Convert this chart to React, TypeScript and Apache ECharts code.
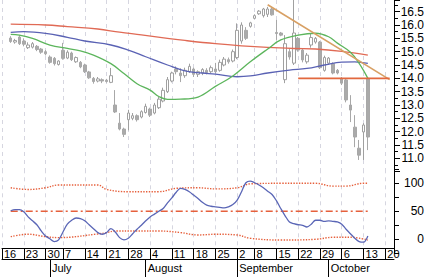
import React, { useEffect, useRef } from 'react';
import * as echarts from 'echarts';

// trading days, June 16 – October 22, 2008
const juneDays = [16, 17, 18, 19, 20, 23, 24, 25, 26, 27, 30];
const julyDays = [1, 2, 3, 7, 8, 9, 10, 11, 14, 15, 16, 17, 18, 21, 22, 23, 24, 25, 28, 29, 30, 31];
const augustDays = [1, 4, 5, 6, 7, 8, 11, 12, 13, 14, 15, 18, 19, 20, 21, 22, 25, 26, 27, 28, 29];
const septemberDays = [2, 3, 4, 5, 8, 9, 10, 11, 12, 15, 16, 17, 18, 19, 22, 23, 24, 25, 26, 29, 30];
const octoberDays = [1, 2, 3, 6, 7, 8, 9, 10, 13, 14, 15, 16, 17, 20, 21, 22];

const dates: string[] = [
  ...juneDays.map((d) => `Jun ${d}`),
  ...julyDays.map((d) => `Jul ${d}`),
  ...augustDays.map((d) => `Aug ${d}`),
  ...septemberDays.map((d) => `Sep ${d}`),
  ...octoberDays.map((d) => `Oct ${d}`),
];

// week start indices (tick boxes) and month starts
const weekStarts = [0, 5, 10, 14, 19, 24, 29, 34, 39, 44, 49, 54, 58, 63, 68, 73, 78, 83, 88];
const monthStarts = [11, 33, 54, 75];
const monthNames = ['July', 'August', 'September', 'October'];

// price axis labels
const priceTicks = [11.0, 11.5, 12.0, 12.5, 13.0, 13.5, 14.0, 14.5, 15.0, 15.5, 16.0, 16.5];
const oscTicks = [0, 50, 100];

// candles start at index 2 (June 18)
const firstCandle = 2;
const opens = [
  15.51, 15.36, 15.55, 15.4, 15.15, 15.17, 15.2, 15.1, 15.0, 14.8,
  14.75, 14.52, 15.05, 14.76, 14.95, 14.62, 14.6, 14.5, 14.24, 14.0,
  13.9, 13.95, 13.93, 13.85, 13.0, 12.32, 12.1, 12.45, 12.5, 12.6,
  12.55, 12.72, 12.85, 12.7, 12.9, 13.15, 13.5, 13.9, 14.35, 14.2,
  14.1, 14.25, 14.35, 14.15, 14.2, 14.3, 14.25, 14.35, 14.3, 14.5,
  14.7, 14.65, 14.78, 15.4, 15.8, 15.95, 16.25, 16.42, 16.35, 16.4,
  16.6, 15.72, 15.7, 13.95, 15.0, 14.57, 15.5, 15.06, 14.62, 15.25,
  15.36, 15.36, 14.3, 14.57, 14.55, 14.3, 14.0, 13.94, 13.0, 12.17,
  11.38, 11.99, 14.0,
];
const closes = [
  15.38, 15.42, 15.3, 15.28, 15.25, 15.3, 15.08, 14.98, 14.92, 14.6,
  14.55, 14.65, 14.75, 14.98, 14.7, 14.78, 14.43, 14.25, 14.02, 13.88,
  13.98, 13.9, 13.88, 14.1, 12.74, 12.1, 11.9, 12.7, 12.6, 12.45,
  12.75, 12.95, 12.62, 13.0, 13.22, 13.55, 13.95, 14.2, 14.25, 14.1,
  14.3, 14.45, 14.15, 14.25, 14.33, 14.22, 14.4, 14.25, 14.6, 14.72,
  14.62, 15.0, 15.8, 16.0, 15.5, 16.08, 16.35, 16.52, 16.6, 16.6,
  16.38, 15.68, 15.62, 15.3, 14.8, 15.7, 15.06, 14.69, 14.87, 15.53,
  15.5, 14.4, 14.78, 14.76, 14.2, 14.2, 13.82, 13.19, 12.81, 11.8,
  11.12, 12.25, 11.8,
];
const lows = [
  15.33, 15.3, 15.25, 15.2, 15.1, 15.12, 15.02, 14.92, 14.86, 14.55,
  14.48, 14.48, 14.7, 14.72, 14.65, 14.58, 14.38, 14.2, 13.98, 13.8,
  13.85, 13.82, 13.84, 13.82, 12.7, 12.05, 11.8, 12.05, 12.43, 12.38,
  12.5, 12.68, 12.55, 12.65, 12.85, 13.1, 13.45, 13.85, 14.15, 13.86,
  14.02, 14.2, 14.05, 14.05, 14.12, 14.15, 14.2, 14.18, 14.25, 14.45,
  14.55, 14.6, 14.72, 15.3, 15.44, 15.9, 16.22, 16.38, 16.28, 16.3,
  16.35, 15.44, 15.58, 13.82, 14.7, 14.5, 15.0, 14.6, 14.55, 15.15,
  15.3, 14.35, 14.25, 14.5, 14.15, 14.15, 13.75, 13.1, 12.36, 11.42,
  10.94, 10.94, 11.31,
];
const highs = [
  15.58, 15.48, 15.62, 15.5, 15.35, 15.36, 15.25, 15.14, 15.06, 14.86,
  14.8, 14.68, 15.33, 15.05, 15.0, 14.82, 14.65, 14.55, 14.28, 14.05,
  14.05, 14.0, 13.98, 14.39, 13.56, 12.7, 12.15, 12.82, 12.7, 12.65,
  12.8, 13.05, 12.9, 13.08, 13.3, 13.65, 14.05, 14.25, 14.45, 14.38,
  14.4, 14.55, 14.4, 14.3, 14.38, 14.38, 14.48, 14.58, 14.7, 14.8,
  14.78, 15.08, 16.06, 16.1, 15.92, 16.12, 16.4, 16.56, 16.64, 16.68,
  16.65, 16.19, 15.74, 15.62, 15.1, 16.95, 15.55, 15.1, 14.95, 15.7,
  15.55, 15.4, 14.85, 14.8, 14.6, 14.35, 14.05, 14.0, 13.37, 12.62,
  11.69, 12.32, 14.0,
];

// moving averages: [day index, value]
const maLong: [number, number][] = [
  [2, 16.03], [10, 16.0], [15, 15.94], [22, 15.85], [27, 15.73], [32, 15.63], [38, 15.5],
  [42, 15.42], [49, 15.3], [55, 15.22], [61, 15.16], [67, 15.12], [72, 15.1], [78, 15.01], [84, 14.87],
];
const maMid: [number, number][] = [
  [2, 15.72], [5, 15.75], [10, 15.69], [15, 15.54], [19, 15.4], [25, 15.25], [29, 15.06],
  [33, 14.81], [38, 14.5], [42, 14.28], [46, 14.2], [49, 14.16], [54, 14.06], [57, 14.09],
  [61, 14.2], [66, 14.31], [70, 14.37], [74, 14.5], [78, 14.61], [81, 14.62], [84, 14.56],
];
const maShort: [number, number][] = [
  [2, 15.65], [4, 15.62], [7, 15.5], [11, 15.25], [15, 15.12], [18, 15.03], [21, 14.87],
  [25, 14.55], [28, 14.18], [31, 13.8], [34, 13.56], [36, 13.32], [38, 13.21], [41, 13.22],
  [45, 13.3], [49, 13.7], [53, 14.09], [57, 14.62], [61, 15.1], [64, 15.44], [68, 15.62],
  [72, 15.69], [75, 15.56], [77, 15.32], [80, 14.98], [82, 14.56], [84, 14.0],
];
const trendLine: [number, number][] = [[61, 16.76], [89, 13.95]];
const supportLine: [number, number][] = [[68, 14.0], [89, 14.0]];

// oscillator (lower panel), starting at index 2
const osc = [
  51, 53, 53, 49, 40, 33, 26, 15, 6, 1,
  -4, -1, 13, 27, 34, 38, 37, 33, 26, 19,
  12, 9, 12, 19, 13, 3, -1, 2, 10, 18,
  25, 33, 40, 45, 50, 55, 65, 74, 84, 91,
  89, 85, 79, 73, 66, 61, 59, 58, 57, 56,
  58, 62, 70, 85, 101, 104, 101, 97, 92, 86,
  80, 69, 55, 42, 31, 28, 26, 25, 22, 27,
  34, 34, 32, 33, 32, 31, 27, 18, 10, 2,
  -4, -5, 6,
];
const bandUpper: [number, number][] = [
  [2, 92], [6, 89], [10, 92], [13, 97], [22, 97], [24, 89], [29, 85], [36, 85], [40, 91],
  [45, 92], [49, 90], [54, 92], [57, 99], [64, 100], [72, 100], [76, 95], [79, 95], [83, 100], [84, 100],
];
const bandLower: [number, number][] = [
  [2, 4.7], [6, 9], [10, 4.7], [13, 3], [22, 9.5], [24, 12], [26, 14.8], [36, 14.8], [41, 12],
  [45, 7.7], [49, 9], [54, 7.7], [57, 1.8], [64, -1.3], [72, 0], [76, 3.6], [80, 3.6], [84, -1.3],
];
const midLine: [number, number][] = [[2, 50], [84, 50]];

const FONT = 'Liberation Sans, Arial, Helvetica, sans-serif';

export default function App() {
  const ref = useRef<HTMLDivElement>(null);

  useEffect(() => {
    if (!ref.current) return;
    const chart = echarts.init(ref.current, undefined, { renderer: 'svg' });
    const weekSet = new Set(weekStarts);
    const monthMap = new Map<number, string>(monthStarts.map((i, k) => [i, monthNames[k]]));
    const isWeek = (i: number) => weekSet.has(i);
    const isMonth = (i: number) => monthMap.has(i);

    const candleData = dates.map((_, i) => {
      const k = i - firstCandle;
      if (k < 0 || k >= opens.length) return ['-', '-', '-', '-'];
      return [opens[k], closes[k], lows[k], highs[k]];
    });
    const oscData = dates.map((_, i) => {
      const k = i - firstCandle;
      return k < 0 || k >= osc.length ? '-' : osc[k];
    });

    const gridX = { left: 2, right: 38 };
    const baseX = {
      type: 'category' as const,
      data: dates,
      boundaryGap: false,
    };
    const plotX = (gridIndex: number) => ({
      ...baseX,
      gridIndex,
      axisLine: { show: false, onZero: false },
      axisTick: { show: false },
      axisLabel: { show: false },
      splitLine: {
        show: true,
        interval: (i: number) => isWeek(i),
        lineStyle: { color: '#d6d6e0', type: [4, 4], width: 1 },
      },
    });

    const line = (
      data: any,
      color: string,
      xi: number,
      opts: any = {},
      smooth: number | boolean = 0.4
    ) => ({
      type: 'line',
      xAxisIndex: xi,
      yAxisIndex: xi,
      data,
      smooth,
      showSymbol: false,
      symbol: 'none',
      lineStyle: { color, width: 1.3, ...opts },
      z: 3,
    });

    chart.setOption({
      animation: false,
      backgroundColor: '#ffffff',
      grid: [
        { ...gridX, top: 0, height: 171.7 },
        { ...gridX, top: 169.3, height: 84 },
        { ...gridX, top: 248, height: 11 },
      ],
      xAxis: [
        plotX(0),
        plotX(1),
        {
          ...baseX,
          gridIndex: 2,
          position: 'top',
          axisLine: { show: true, onZero: false, lineStyle: { color: '#000', width: 1 } },
          axisTick: {
            show: true,
            inside: true,
            length: 11,
            interval: (i: number) => isWeek(i),
            lineStyle: { color: '#000', width: 1 },
          },
          axisLabel: {
            show: true,
            inside: true,
            interval: (i: number) => isWeek(i),
            formatter: (v: string) => v.split(' ')[1],
            align: 'left',
            verticalAlign: 'top',
            margin: 0,
            padding: [0, 0, 0, 2],
            fontSize: 11,
            color: '#000',
            fontFamily: FONT,
          },
          splitLine: { show: false },
        },
        {
          ...baseX,
          gridIndex: 2,
          position: 'bottom',
          axisLine: { show: true, onZero: false, lineStyle: { color: '#000', width: 1 } },
          axisTick: {
            show: true,
            inside: false,
            length: 18,
            interval: (i: number) => isMonth(i),
            lineStyle: { color: '#000', width: 1 },
          },
          axisLabel: {
            show: true,
            interval: (i: number) => isMonth(i),
            formatter: (_v: string, i: number) => monthMap.get(i) ?? '',
            align: 'left',
            verticalAlign: 'top',
            margin: 3,
            padding: [0, 0, 0, 2],
            fontSize: 11,
            color: '#000',
            fontFamily: FONT,
          },
          splitLine: { show: false },
        },
      ],
      yAxis: [
        {
          type: 'value',
          gridIndex: 0,
          position: 'right',
          min: 10.5,
          max: 16.9375,
          interval: 0.5,
          axisLine: { show: true, onZero: false, lineStyle: { color: '#000', width: 1 } },
          axisTick: { show: true, length: 6, lineStyle: { color: '#000' } },
          minorTick: { show: true, splitNumber: 2, length: 4, lineStyle: { color: '#000' } },
          splitLine: { show: false },
          axisLabel: {
            margin: 30,
            align: 'right',
            fontSize: 12,
            color: '#000',
            fontFamily: FONT,
            formatter: (v: number) =>
              priceTicks.some((t) => Math.abs(t - v) < 1e-6) ? v.toFixed(1) : '',
          },
        },
        {
          type: 'value',
          gridIndex: 1,
          position: 'right',
          min: -25,
          max: 125,
          interval: 25,
          axisLine: { show: true, onZero: false, lineStyle: { color: '#000', width: 1 } },
          axisTick: { show: true, length: 5, lineStyle: { color: '#000' } },
          splitLine: { show: false },
          axisLabel: {
            margin: 30,
            align: 'right',
            fontSize: 12,
            color: '#000',
            fontFamily: FONT,
            formatter: (v: number) => (oscTicks.includes(v) ? String(v) : ''),
          },
        },
        {
          type: 'value',
          gridIndex: 2,
          min: 0,
          max: 1,
          axisLine: { show: false },
          axisTick: { show: false },
          axisLabel: { show: false },
          splitLine: { show: false },
        },
      ],
      series: [
        {
          type: 'candlestick',
          xAxisIndex: 0,
          yAxisIndex: 0,
          data: candleData,
          barWidth: 3,
          itemStyle: {
            color: '#ffffff',
            color0: '#aaaaaa',
            borderColor: '#a0a0a0',
            borderColor0: '#a8a8a8',
            borderWidth: 1,
          },
          z: 2,
        },
        line(maLong, '#e06a55', 0),
        line(maMid, '#5a62b4', 0),
        line(maShort, '#5cb55c', 0),
        line(trendLine, '#d8a064', 0, { width: 1.6 }, false),
        line(supportLine, '#e2683e', 0, { width: 1.6 }, false),
        line(bandUpper, '#e6603c', 1, { type: 'dotted', width: 1.4 }),
        line(bandLower, '#e6603c', 1, { type: 'dotted', width: 1.4 }),
        line(midLine, '#e6603c', 1, { type: [7, 3, 2, 3], width: 1.4 }, false),
        line(oscData, '#5a66b6', 1, { width: 1.3 }, 0.35),
      ],
    });

    return () => chart.dispose();
  }, []);

  return (
    <div
      ref={ref}
      style={{ position: 'fixed', left: 0, top: 0, width: 432, height: 279, background: '#fff' }}
    />
  );
}
